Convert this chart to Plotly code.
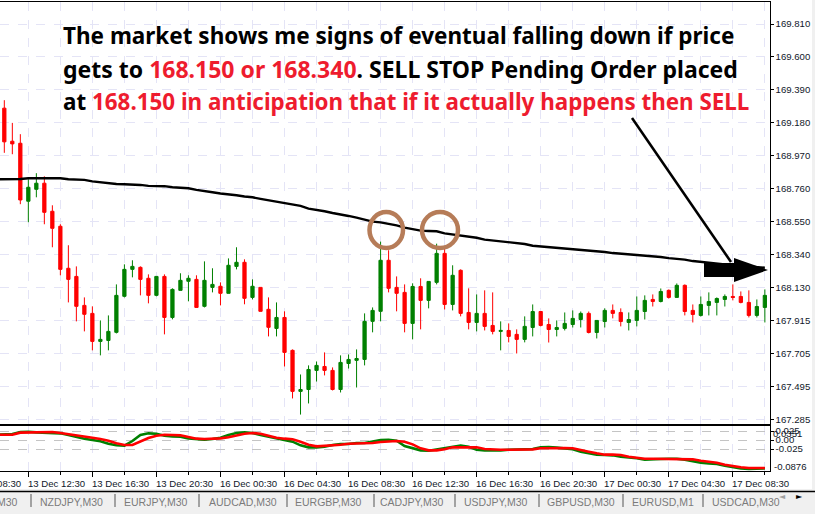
import plotly.graph_objects as go

W, H = 815, 514

opens = [169.273,169.062,169.049,168.679,168.755,168.794,168.615,168.519,168.251,168.199,168.014,167.963,167.784,167.790,167.842,168.072,168.244,168.257,168.187,168.078,168.199,167.937,168.110,168.168,168.180,168.008,168.129,168.136,168.091,168.263,168.289,168.065,168.129,167.989,
167.867,167.937,167.727,167.465,167.477,167.599,167.624,167.599,167.477,167.643,167.663,167.669,167.912,167.976,168.302,168.129,168.097,167.899,168.135,168.046,168.161,168.346,168.020,168.238,167.969,167.905,167.963,167.886,167.848,167.854,167.829,167.797,
167.873,167.975,167.892,167.860,167.867,167.892,167.924,167.963,167.841,167.911,167.982,167.969,167.905,167.918,167.975,168.052,168.039,168.110,168.065,168.142,167.982,167.950,168.014,168.033,168.052,168.071,168.071,168.033,167.950,168.001]
highs = [169.324,169.179,169.107,168.819,168.858,168.838,168.653,168.532,168.398,168.263,168.065,168.008,167.918,167.950,168.148,168.276,168.302,168.263,168.212,168.199,168.212,168.123,168.219,168.206,168.206,168.295,168.251,168.161,168.314,168.385,168.308,168.180,168.129,168.065,
168.033,167.976,167.733,167.573,167.631,167.656,167.714,167.618,167.695,167.701,167.733,167.963,168.001,168.421,168.366,168.199,168.148,168.155,168.187,168.167,168.408,168.376,168.270,168.244,168.123,168.084,168.110,168.097,167.912,167.899,167.861,167.944,
168.020,167.975,167.931,167.918,167.969,167.982,167.975,167.975,167.918,167.995,168.020,167.995,167.969,168.071,168.078,168.084,168.122,168.116,168.154,168.148,168.020,168.071,168.097,168.065,168.084,168.148,168.103,168.110,168.052,168.116]
lows = [168.988,168.979,168.660,168.545,168.704,168.532,168.385,168.206,168.033,167.912,167.848,167.727,167.695,167.727,167.835,168.065,168.193,168.078,168.027,168.072,167.829,167.925,168.110,168.040,168.001,168.001,168.097,168.014,168.091,168.244,168.021,168.052,167.976,167.816,
167.816,167.624,167.420,167.317,167.388,167.528,167.567,167.471,167.458,167.611,167.490,167.631,167.842,167.912,168.097,167.976,167.842,167.797,167.861,167.995,168.148,167.988,167.982,167.944,167.861,167.848,167.854,167.829,167.727,167.778,167.707,167.778,
167.816,167.880,167.777,167.816,167.854,167.873,167.873,167.835,167.803,167.873,167.931,167.880,167.854,167.880,167.924,168.007,168.033,168.058,168.065,167.950,167.905,167.943,167.950,167.950,168.007,168.046,168.027,167.937,167.937,167.905]
closes = [169.058,169.045,168.687,168.768,168.794,168.608,168.506,168.244,168.180,168.008,167.957,167.784,167.797,167.848,168.078,168.244,168.263,168.180,168.078,168.199,167.937,168.116,168.174,168.187,168.001,168.174,168.148,168.091,168.270,168.289,168.059,168.136,167.976,167.874,
167.937,167.714,167.465,167.477,167.605,167.631,167.599,167.477,167.650,167.669,167.675,167.912,167.982,168.302,168.123,168.091,167.899,168.135,168.046,168.167,168.346,168.020,168.206,167.963,167.905,167.963,167.880,167.848,167.854,167.816,167.797,167.880,
167.975,167.886,167.860,167.873,167.899,167.931,167.963,167.841,167.918,167.982,167.963,167.911,167.924,167.982,168.046,168.039,168.103,168.065,168.142,167.975,167.956,168.020,168.039,168.058,168.071,168.065,168.033,167.950,168.007,168.078]
# lines start one bar earlier than the first fully visible candle
ma_line = [168.819,168.819,168.819,168.821,168.826,168.826,168.826,168.826,168.826,168.819,168.817,168.815,168.806,168.800,168.796,168.789,168.787,168.787,168.783,168.777,168.777,168.775,168.768,168.764,168.762,168.751,168.745,168.736,168.728,168.724,168.717,168.709,168.704,168.694,168.685,
168.674,168.664,168.659,168.649,168.632,168.625,168.615,168.604,168.596,168.585,168.574,168.559,168.549,168.544,168.536,168.525,168.510,168.500,168.491,168.489,168.487,168.474,168.468,168.461,168.453,168.446,168.434,168.429,168.421,168.417,168.410,168.406,168.395,168.391,
168.386,168.382,168.378,168.374,168.369,168.365,168.359,168.355,168.348,168.344,168.340,168.335,168.333,168.327,168.323,168.316,168.312,168.306,168.297,168.291,168.284,168.280,168.276,168.271,168.267,168.263,168.259,168.254]
osc_red = [.0148,.0148,.0148,.0204,.0213,.0213,.0222,.0222,.0194,.0167,.0139,.0102,.0065,.0028,-.0019,-.0093,-.0139,-.0139,-.0046,.0056,.0120,.0148,.0139,.0130,.0083,.0037,.0028,.0028,.0046,.0074,.0130,.0176,.0194,.0176,.0120,.0065,.0037,.0019,-.0046,-.0130,-.0176,-.0167,-.0148,-.0130,-.0102,-.0102,-.0093,-.0083,-.0056,-.0046,-.0028,-.0046,
-.0120,-.0231,-.0287,-.0287,-.0259,-.0204,-.0204,-.0204,-.0204,-.0250,-.0269,-.0269,-.0269,-.0269,-.0269,-.0259,-.0231,-.0222,-.0222,-.0222,-.0231,-.0287,-.0324,-.0370,-.0407,-.0407,-.0417,-.0463,-.0491,-.0519,-.0519,-.0519,-.0519,-.0519,-.0519,-.0537,-.0574,-.0602,-.0630,-.0685,-.0731,-.0759,-.0778,-.0778,-.0778]
osc_green = [.0148,.0148,.0167,.0222,.0231,.0213,.0204,.0204,.0185,.0139,.0083,.0037,0,-.0037,-.0102,-.0148,-.0157,-.0028,.0139,.0185,.0176,.0120,.0102,.0093,.0046,.0019,.0009,.0028,.0065,.0139,.0194,.0213,.0194,.0139,.0093,.0046,-.0009,-.0046,-.0148,-.0204,-.0204,-.0185,-.0139,-.0111,-.0111,-.0083,-.0083,-.0046,0,.0009,-.0019,-.0167,
-.0231,-.0287,-.0296,-.0259,-.0213,-.0176,-.0157,-.0185,-.0269,-.0287,-.0296,-.0287,-.0269,-.0259,-.0259,-.0250,-.0204,-.0194,-.0213,-.0231,-.0259,-.0324,-.0370,-.0407,-.0417,-.0426,-.0463,-.0481,-.0509,-.0546,-.0546,-.0528,-.0519,-.0519,-.0546,-.0593,-.0630,-.0648,-.0667,-.0713,-.0759,-.0787,-.0806,-.0806,-.0787]

price_ticks = [169.810,169.600,169.390,169.180,168.970,168.760,168.550,168.340,168.130,167.915,167.705,167.495,167.285]
osc_ticks = [0.025, 0.0, -0.025]
osc_labels = ["0.025", "0.00", "-0.025"]
time_labels = ["13 Dec 08:30","13 Dec 12:30","13 Dec 16:30","13 Dec 20:30","16 Dec 00:30","16 Dec 04:30","16 Dec 08:30","16 Dec 12:30","16 Dec 16:30","16 Dec 20:30","17 Dec 00:30","17 Dec 04:30","17 Dec 08:30"]
tabs = ["AUDJPY,M30","NZDJPY,M30","EURJPY,M30","AUDCAD,M30","EURGBP,M30","CADJPY,M30","USDJPY,M30","GBPUSD,M30","EURUSD,M1","USDCAD,M30"]

x = list(range(len(opens)))
x_line = list(range(-1, len(opens)))
RED_TXT = "#ee1c2e"
FONT = "Liberation Sans"
AX = "#10182a"
GRID = "#e4e4f6"


def px(v):
    return v / W


def py(v):
    return 1 - v / H


fig = go.Figure()
fig.add_trace(go.Candlestick(
    x=x, open=opens, high=highs, low=lows, close=closes, xaxis="x", yaxis="y",
    increasing=dict(line=dict(color="#008000", width=1), fillcolor="#008000"),
    decreasing=dict(line=dict(color="#ff0000", width=1), fillcolor="#ff0000"),
    whiskerwidth=0, showlegend=False, hoverinfo="skip"))
fig.add_trace(go.Scatter(x=x_line, y=ma_line, mode="lines", line=dict(color="black", width=2.4),
                         xaxis="x", yaxis="y", showlegend=False, hoverinfo="skip"))
fig.add_trace(go.Scatter(x=x_line, y=osc_green, mode="lines", line=dict(color="#008000", width=2.6),
                         xaxis="x2", yaxis="y2", showlegend=False, hoverinfo="skip"))
fig.add_trace(go.Scatter(x=x_line, y=osc_red, mode="lines", line=dict(color="#ff0000", width=2.6),
                         xaxis="x2", yaxis="y2", showlegend=False, hoverinfo="skip"))

shapes = []
# page furniture
shapes.append(dict(type="rect", xref="paper", yref="paper", x0=0, x1=1, y0=py(514), y1=py(489),
                   fillcolor="#f0f0f0", line_width=0, layer="below"))
shapes.append(dict(type="line", xref="paper", yref="paper", x0=0, x1=1, y0=py(491.5), y1=py(491.5),
                   line=dict(color="black", width=1.4)))
shapes.append(dict(type="rect", xref="paper", yref="paper", x0=px(812), x1=1, y0=py(489), y1=1,
                   fillcolor="#f0f0f0", line_width=0, layer="below"))
for sx in [31, 115, 199, 287, 374, 455, 539, 623, 703]:
    shapes.append(dict(type="line", xref="paper", yref="paper", x0=px(sx), x1=px(sx), y0=py(494), y1=py(507),
                       line=dict(color="#555555", width=1)))
# circles
for cx0, cx1 in [(369.5, 403), (422, 458)]:
    shapes.append(dict(type="circle", xref="paper", yref="paper", x0=px(cx0), x1=px(cx1), y0=py(248), y1=py(212),
                       line=dict(color="#b67c58", width=4.5)))
# thin arrow shaft
shapes.append(dict(type="line", xref="paper", yref="paper", x0=px(632), y0=py(118), x1=px(731), y1=py(262),
                   line=dict(color="black", width=2.6)))
# big arrow
shapes.append(dict(type="rect", xref="paper", yref="paper", x0=px(704), x1=px(735), y0=py(277), y1=py(263),
                   fillcolor="black", line_width=0))
shapes.append(dict(type="path", xref="paper", yref="paper",
                   path=f"M {px(734)} {py(258)} L {px(768)} {py(270)} L {px(734)} {py(282)} Z",
                   fillcolor="black", line_width=0))

ann = []
lines = [
    (36, 22.5, 'The market shows me signs of eventual falling down if price'),
    (69, 23.0, f'gets to <span style="color:{RED_TXT}">168.150 or 168.340</span>. SELL STOP Pending Order placed'),
    (102, 22.4, f'at <span style="color:{RED_TXT}">168.150 in anticipation that if it actually happens then SELL</span>'),
]
for ypix, fs, txt in lines:
    ann.append(dict(xref="paper", yref="paper", x=px(62), y=py(ypix), xanchor="left", yanchor="middle",
                    text=f"<b>{txt}</b>", showarrow=False, align="left", borderpad=0,
                    font=dict(family="Noto Sans", size=fs, color="black")))
# time labels sit to the right of their tick
for i, lab in enumerate(time_labels):
    ann.append(dict(xref="paper", yref="paper", x=px(-37.5 + 64 * i), y=py(483), xanchor="left", yanchor="middle",
                    text=lab, showarrow=False, borderpad=0,
                    font=dict(family=FONT, size=9.6, color=AX)))
# overlapping oscillator labels
ann.append(dict(xref="paper", yref="paper", x=px(772), y=py(433.5), xanchor="left", yanchor="middle",
                text="0.0351", showarrow=False, borderpad=0, font=dict(family=FONT, size=9.6, color=AX)))
ann.append(dict(xref="paper", yref="paper", x=px(773), y=py(466), xanchor="left", yanchor="middle",
                text="-0.0876", showarrow=False, borderpad=0, font=dict(family=FONT, size=9.6, color=AX)))
# terminal tabs
for tx, lab in zip([-47, 39, 123, 208, 294, 379, 463, 546, 631, 711], tabs):
    ann.append(dict(xref="paper", yref="paper", x=px(tx), y=py(502), xanchor="left", yanchor="middle",
                    text=lab, showarrow=False, borderpad=0, font=dict(family=FONT, size=10.5, color="#7b7b7b")))
ann.append(dict(xref="paper", yref="paper", x=px(787), y=py(501.5), text="◄", showarrow=False, borderpad=0,
                font=dict(family="DejaVu Sans", size=8, color="#a0a0a0")))
ann.append(dict(xref="paper", yref="paper", x=px(804), y=py(501.5), text="►", showarrow=False, borderpad=0,
                font=dict(family="DejaVu Sans", size=8, color="black")))

xcommon = dict(range=[-0.54, 95.58], tick0=3, showgrid=True, zeroline=False, showline=True,
               linecolor="black", linewidth=1.4, mirror=True, gridcolor=GRID, griddash="dash", gridwidth=1)
fig.update_layout(
    width=W, height=H, autosize=False, margin=dict(l=0, r=0, t=0, b=0),
    paper_bgcolor="white", plot_bgcolor="white", boxgap=0.42, showlegend=False,
    shapes=shapes, annotations=ann,
    xaxis=dict(domain=[0, 769.5 / W], anchor="y", dtick=4, ticks="", showticklabels=False,
               rangeslider=dict(visible=False), **xcommon),
    xaxis2=dict(domain=[0, 769.5 / W], anchor="y2", dtick=8, ticks="outside", ticklen=5, tickcolor="black",
                showticklabels=False, **xcommon,
                minor=dict(tick0=7, dtick=8, ticks="outside", ticklen=3, tickcolor="black",
                           showgrid=True, gridcolor=GRID, griddash="dash")),
    yaxis=dict(domain=[py(423.5), py(1.5)], range=[167.260, 169.954], side="right", anchor="x",
               tickvals=price_ticks, ticktext=[f"{v:.3f}" for v in price_ticks],
               ticks="outside", ticklen=3, tickcolor="black", showgrid=True, gridcolor=GRID,
               griddash="dash", gridwidth=1, zeroline=False, showline=True, linecolor="black", linewidth=1.4,
               tickfont=dict(family=FONT, size=9.6, color=AX)),
    yaxis2=dict(domain=[py(471), py(425.5)], range=[-0.0861, 0.0403], side="right", anchor="x2",
                tickvals=osc_ticks, ticktext=osc_labels, ticks="outside", ticklen=3, tickcolor="black",
                showgrid=True, gridcolor="#c4c4c4", griddash="dash", gridwidth=1, zeroline=False,
                showline=True, linecolor="black", linewidth=1.4,
                tickfont=dict(family=FONT, size=9.6, color=AX)),
)
fig.write_html("out.html", config=dict(displayModeBar=False),
               post_script="document.body.style.margin='0';document.body.style.background='white';")
